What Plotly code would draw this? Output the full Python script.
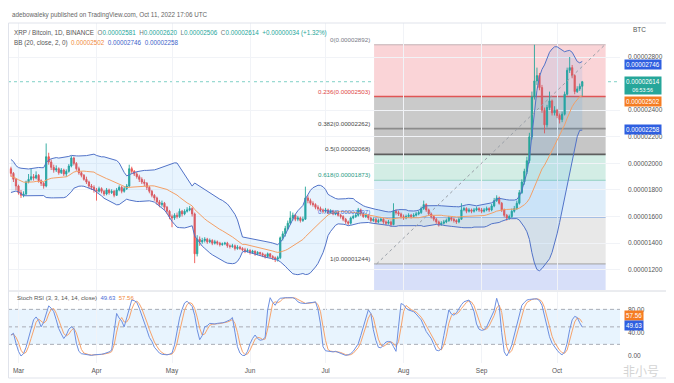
import numpy as np
import pandas as pd
import plotly.graph_objects as go

# ---------------- data (prices in satoshi = 1e-8 BTC) ----------------
# closes before the first visible day, only used to warm up BB(20)
warmup_close = [1980, 2010, 2050, 2000, 1960, 1920, 1880, 1900, 1870, 1850,
                1830, 1860, 1880, 1850, 1820, 1840, 1870, 1900, 1930, 1960]
first_open = 1960

close_feb = [1925, 1880, 1830]
high_feb = [1975, 1935, 1890]
low_feb = [1900, 1860, 1800]

close_mar = [1780, 1760, 1770, 1860, 1880, 1900, 1890, 1910, 1870, 1850,
             1830, 2050, 2010, 1970, 1950, 1960, 1930, 1950, 1920, 1940,
             1980, 2040, 2000, 1960, 1930, 1910, 1880, 1860, 1830, 1820, 1800]
high_mar = [1840, 1800, 1790, 1870, 1920, 1960, 1920, 1940, 1920, 1880,
            1860, 2150, 2080, 2030, 1990, 1985, 1970, 1965, 1960, 1955,
            1995, 2055, 2050, 2010, 1975, 1940, 1920, 1900, 1870, 1845, 1835]
low_mar = [1765, 1740, 1745, 1760, 1850, 1870, 1870, 1880, 1855, 1830,
           1810, 1820, 1990, 1950, 1930, 1935, 1915, 1920, 1905, 1900,
           1930, 1970, 1985, 1945, 1915, 1895, 1870, 1845, 1815, 1800, 1780]

close_apr = [1790, 1810, 1790, 1770, 1800, 1780, 1790, 1760, 1800, 1820,
             1790, 1810, 1830, 1960, 1940, 1920, 1900, 1880, 1860, 1850,
             1820, 1790, 1760, 1740, 1710, 1690, 1700, 1670, 1640, 1600]
high_apr = [1815, 1825, 1820, 1800, 1815, 1810, 1805, 1800, 1815, 1835,
            1830, 1825, 1845, 1990, 1975, 1950, 1935, 1915, 1895, 1880,
            1860, 1830, 1800, 1770, 1750, 1725, 1720, 1710, 1680, 1650]
low_apr = [1720, 1780, 1775, 1755, 1760, 1765, 1770, 1745, 1755, 1790,
           1775, 1780, 1800, 1820, 1925, 1905, 1885, 1860, 1845, 1830,
           1800, 1775, 1745, 1720, 1690, 1670, 1675, 1650, 1620, 1580]

close_may = [1590, 1610, 1600, 1640, 1620, 1640, 1650, 1660, 1620, 1320,
             1430, 1410, 1420, 1430, 1410, 1420, 1400, 1410, 1400, 1390,
             1395, 1400, 1380, 1375, 1380, 1360, 1370, 1360, 1350, 1340, 1345]
high_may = [1615, 1625, 1630, 1660, 1650, 1655, 1670, 1680, 1670, 1630,
            1460, 1450, 1440, 1445, 1440, 1435, 1430, 1425, 1420, 1410,
            1405, 1410, 1410, 1390, 1395, 1390, 1385, 1380, 1370, 1365, 1360]
low_may = [1520, 1575, 1585, 1590, 1600, 1610, 1630, 1640, 1600, 1250,
           1300, 1380, 1395, 1405, 1395, 1400, 1385, 1390, 1385, 1375,
           1380, 1385, 1365, 1360, 1365, 1345, 1350, 1350, 1340, 1325, 1330]

close_jun = [1330, 1340, 1320, 1330, 1320, 1310, 1300, 1320, 1300, 1290,
             1280, 1290, 1440, 1470, 1510, 1550, 1590, 1610, 1580, 1590,
             1570, 1580, 1740, 1720, 1700, 1690, 1670, 1660, 1650, 1640]
high_jun = [1355, 1350, 1345, 1340, 1335, 1330, 1320, 1330, 1325, 1310,
            1300, 1305, 1450, 1490, 1530, 1570, 1640, 1630, 1620, 1605,
            1600, 1600, 1825, 1760, 1735, 1715, 1700, 1685, 1675, 1660]
low_jun = [1315, 1320, 1305, 1310, 1305, 1295, 1285, 1290, 1285, 1275,
           1258, 1262, 1280, 1420, 1450, 1500, 1540, 1570, 1565, 1565,
           1555, 1560, 1575, 1700, 1685, 1675, 1655, 1645, 1635, 1625]

close_jul = [1650, 1630, 1640, 1620, 1630, 1610, 1600, 1580, 1560, 1550,
             1590, 1600, 1610, 1650, 1620, 1600, 1610, 1590, 1570, 1580,
             1560, 1570, 1580, 1560, 1550, 1560, 1540, 1640, 1630, 1620, 1600]
high_jul = [1665, 1660, 1655, 1650, 1645, 1640, 1620, 1610, 1590, 1570,
            1600, 1615, 1625, 1665, 1660, 1630, 1625, 1620, 1600, 1595,
            1590, 1585, 1595, 1590, 1570, 1575, 1570, 1700, 1655, 1645, 1630]
low_jul = [1630, 1620, 1620, 1610, 1610, 1600, 1585, 1565, 1545, 1535,
           1540, 1580, 1590, 1600, 1605, 1590, 1590, 1575, 1555, 1560,
           1545, 1550, 1560, 1545, 1535, 1540, 1525, 1535, 1615, 1605, 1585]

close_aug = [1590, 1600, 1610, 1600, 1610, 1620, 1630, 1660, 1690, 1650,
             1620, 1600, 1580, 1560, 1540, 1550, 1560, 1570, 1590, 1580,
             1570, 1560, 1580, 1650, 1660, 1640, 1650, 1640, 1650, 1660, 1650]
high_aug = [1615, 1615, 1625, 1620, 1625, 1635, 1645, 1675, 1720, 1700,
            1660, 1630, 1610, 1590, 1570, 1565, 1575, 1585, 1605, 1600,
            1590, 1580, 1595, 1700, 1675, 1670, 1665, 1660, 1665, 1675, 1670]
low_aug = [1575, 1580, 1590, 1585, 1590, 1600, 1610, 1620, 1650, 1635,
           1605, 1585, 1565, 1545, 1525, 1530, 1540, 1550, 1560, 1565,
           1555, 1545, 1550, 1575, 1640, 1625, 1630, 1625, 1630, 1640, 1635]

close_sep = [1640, 1650, 1660, 1650, 1680, 1720, 1740, 1700, 1650, 1610,
             1590, 1600, 1640, 1660, 1700, 1780, 1860, 1940, 2020, 2200,
             2500, 2620, 2660, 2570, 2400, 2290, 2420, 2470, 2380, 2400]
high_sep = [1665, 1665, 1675, 1670, 1695, 1740, 1760, 1750, 1710, 1660,
            1620, 1615, 1660, 1680, 1720, 1800, 1880, 1960, 2050, 2230,
            2540, 2892, 2720, 2680, 2590, 2420, 2440, 2540, 2480, 2430]
low_sep = [1625, 1630, 1640, 1635, 1640, 1670, 1710, 1690, 1635, 1595,
           1570, 1575, 1590, 1630, 1650, 1690, 1770, 1840, 1920, 2000,
           2180, 2480, 2590, 2550, 2380, 2226, 2270, 2400, 2360, 2360]

close_oct = [2360, 2330, 2370, 2520, 2700, 2720, 2660, 2540, 2560, 2580, 2614]
high_oct = [2410, 2375, 2390, 2540, 2720, 2800, 2740, 2670, 2580, 2600, 2620]
low_oct = [2340, 2300, 2310, 2360, 2510, 2680, 2640, 2520, 2530, 2545, 2506]

# Stoch RSI %K (one value per day)
k_feb = [36, 39, 22]
k_mar = [8, 0, 4, 15, 30, 45, 62, 67, 61, 50, 58, 72, 86, 82, 76, 62, 47, 38, 30, 36,
         46, 50, 47, 22, 8, 4, 3, 2, 2, 1, 2]
k_apr = [2, 3, 3, 4, 5, 7, 10, 40, 73, 65, 60, 50, 65, 80, 96, 95, 92, 82, 70, 60,
         45, 32, 25, 15, 10, 5, 3, 2, 2, 3]
k_may = [5, 19, 42, 65, 80, 91, 94, 90, 85, 70, 45, 28, 35, 50, 52, 56, 55, 55, 56, 56,
         57, 58, 60, 62, 66, 40, 16, 5, 1, 1, 8]
k_jun = [21, 30, 36, 30, 27, 28, 32, 79, 100, 92, 87, 95, 99, 100, 100, 100, 100, 100, 98, 93,
         91, 90, 90, 91, 91, 92, 93, 80, 55, 16]
k_jul = [9, 8, 8, 7, 8, 6, 4, 2, 1, 2, 4, 8, 14, 21, 35, 50, 66, 79, 73, 45,
         27, 15, 14, 20, 24, 25, 24, 16, 8, 50, 90]
k_aug = [88, 82, 79, 78, 76, 72, 66, 62, 52, 42, 36, 30, 20, 10, 9, 12, 35, 55, 79, 72,
         70, 74, 82, 88, 93, 95, 96, 87, 76, 55, 46]
k_sep = [44, 45, 50, 60, 70, 78, 99, 85, 40, 7, 0, 8, 19, 36, 56, 72, 87, 92, 96, 97,
         98, 98, 98, 95, 87, 68, 47, 33, 22, 15]
k_oct = [10, 5, 2, 7, 22, 45, 62, 68, 66, 57.05, 49.63]

# fib retracement drawing
fib_ratio_text = ["0", "0.236", "0.382", "0.5", "0.618", "0.786", "1", "1.618"]
fib_price = [2892, 2503, 2262, 2068, 1873, 1597, 1244, 226]
fib_start, fib_end = "2022-07-20 07:00", "2022-10-20 07:00"
trend_start, trend_end = "2022-07-21 07:00", "2022-10-20 00:00"

# axis ticks (0.00002600 is hidden behind the last-price label on the reference)
price_ticks = [1200, 1400, 1600, 1800, 2000, 2200, 2400, 2800]
stoch_ticks = [0, 40, 80]
stoch_bands = [80, 50, 20]

# legend values of last bar / indicators
last_o, last_h, last_l, last_c, last_chg, last_pct = 2581, 2620, 2506, 2614, 34, 1.32
bb_last = [2502, 2746, 2258]   # basis, upper, lower
countdown = "06:53:56"

# ---------------- assemble ----------------
close = close_feb + close_mar + close_apr + close_may + close_jun + close_jul + close_aug + close_sep + close_oct
high = high_feb + high_mar + high_apr + high_may + high_jun + high_jul + high_aug + high_sep + high_oct
low = low_feb + low_mar + low_apr + low_may + low_jun + low_jul + low_aug + low_sep + low_oct
kval = k_feb + k_mar + k_apr + k_may + k_jun + k_jul + k_aug + k_sep + k_oct
assert len(close) == len(high) == len(low) == len(kval) == 228, (len(close), len(high), len(low), len(kval))

dates = pd.date_range("2022-02-26", periods=len(close), freq="D")
opens = [first_open] + close[:-1]
S = 1e-8

full = pd.Series(warmup_close + close, dtype=float)
basis = full.rolling(20).mean().iloc[len(warmup_close):].to_numpy()
dev = full.rolling(20).std(ddof=0).iloc[len(warmup_close):].to_numpy()
upper = basis + 2 * dev
lower = basis - 2 * dev
dval = pd.Series(kval, dtype=float).rolling(3, min_periods=1).mean().to_numpy()

# ---------------- layout helpers (screen pixels; page body has an 8px margin) ----------------
OX, OY = 8, 8
FW, FH = 666, 375
def fx(p): return (p - OX) / FW
def fy(p): return 1 - (p - OY) / FH

FONT = "Liberation Sans"
TEAL, RED = "#26a69a", "#ef5350"

fig = go.Figure()
fig.add_trace(go.Scatter(x=dates, y=upper * S, mode="lines", line=dict(color="#5273c8", width=1),
                         hoverinfo="skip", showlegend=False))
fig.add_trace(go.Scatter(x=dates, y=lower * S, mode="lines", line=dict(color="#5273c8", width=1),
                         fill="tonexty", fillcolor="rgba(33,150,243,0.10)", hoverinfo="skip", showlegend=False))
fig.add_trace(go.Scatter(x=dates, y=basis * S, mode="lines", line=dict(color="#f4a066", width=1),
                         hoverinfo="skip", showlegend=False))
fig.add_trace(go.Candlestick(x=dates, open=np.array(opens) * S, high=np.array(high) * S,
                             low=np.array(low) * S, close=np.array(close) * S,
                             increasing=dict(line=dict(color=TEAL, width=0.9), fillcolor=TEAL),
                             decreasing=dict(line=dict(color=RED, width=0.9), fillcolor=RED),
                             showlegend=False))
fig.add_trace(go.Scatter(x=dates, y=dval, mode="lines", line=dict(color="#f7a36c", width=1),
                         xaxis="x2", yaxis="y2", showlegend=False))
fig.add_trace(go.Scatter(x=dates, y=kval, mode="lines", line=dict(color="#6d8fe0", width=1),
                         xaxis="x2", yaxis="y2", showlegend=False))

shapes = []
zone_colors = ["#fad4d7", "#cacaca", "#c6c6c6", "#d3ede5", "#deedf9", "#e8e8e8", "#d7dff9"]
for i, col in enumerate(zone_colors):
    shapes.append(dict(type="rect", xref="x", yref="y", x0=fib_start, x1=fib_end,
                       y0=fib_price[i + 1] * S, y1=fib_price[i] * S, fillcolor=col,
                       line=dict(width=0), layer="below"))
line_colors = ["#c4b2b4", "#e05555", "#8c8c8c", "#5e5e5e", "#8fcfc0", "#5b8ee0", "#a0a0a0"]
line_w = [1, 1.5, 1.8, 1.8, 1, 1, 1]
for i, col in enumerate(line_colors):
    shapes.append(dict(type="line", xref="x", yref="y", x0=fib_start, x1=fib_end,
                       y0=fib_price[i] * S, y1=fib_price[i] * S, line=dict(color=col, width=line_w[i]),
                       layer="below"))
shapes.append(dict(type="line", xref="x", yref="y", x0=trend_start, x1=trend_end,
                   y0=fib_price[6] * S, y1=fib_price[0] * S,
                   line=dict(color="#9aa0a8", width=1, dash="3px,3px"), layer="above"))
shapes.append(dict(type="line", xref="x domain", yref="y", x0=0, x1=1,
                   y0=last_c * S, y1=last_c * S, line=dict(color="#7fd0c6", width=1, dash="dot"),
                   layer="below"))
# stoch pane band
shapes.append(dict(type="rect", xref="x2 domain", yref="y2", x0=0, x1=1, y0=stoch_bands[2], y1=stoch_bands[0],
                   fillcolor="rgba(33,150,243,0.10)", line=dict(width=0), layer="below"))
for lv in stoch_bands:
    shapes.append(dict(type="line", xref="x2 domain", yref="y2", x0=0, x1=1, y0=lv, y1=lv,
                       line=dict(color="#a9adb6", width=1, dash="4px,3px"), layer="below"))
# frame and pane separator
shapes.append(dict(type="line", xref="paper", yref="paper", x0=fx(8), x1=fx(668), y0=fy(291), y1=fy(291),
                   line=dict(color="#d6d9e0", width=1)))
shapes.append(dict(type="rect", xref="paper", yref="paper", x0=fx(8.5), x1=fx(668), y0=fy(378), y1=fy(23),
                   line=dict(color="#e0e3eb", width=1)))

ann = []
def txt(x, y, text, size=6.3, color="#555", xanchor="left", yanchor="middle", family=FONT):
    ann.append(dict(x=fx(x), y=fy(y), xref="paper", yref="paper", text=text, showarrow=False,
                    xanchor=xanchor, yanchor=yanchor, font=dict(size=size, color=color, family=family)))

txt(10, 15, "adebowaleky published on TradingView.com, Oct 11, 2022 17:06 UTC", color="#666")
g = "<span style='color:#777'>%s</span>"
t = "<span style='color:#26a69a'>%s</span>"
line1 = ("XRP / Bitcoin, 1D, BINANCE  " + g % "O" + t % f"{last_o*S:.8f}" + "  " + g % "H" + t % f"{last_h*S:.8f}"
         + "  " + g % "L" + t % f"{last_l*S:.8f}" + "  " + g % "C" + t % f"{last_c*S:.8f}"
         + "  " + t % f"+{last_chg*S:.8f} (+{last_pct:.2f}%)")
txt(12, 33, line1, color="#555")
line2 = ("BB (20, close, 2, 0)  <span style='color:#f08a3c'>%.8f</span>  <span style='color:#3d63c9'>%.8f</span>"
         "  <span style='color:#3d63c9'>%.8f</span>" % (bb_last[0] * S, bb_last[1] * S, bb_last[2] * S))
txt(12, 43, line2, color="#555")
txt(15, 298, "Stoch RSI (3, 3, 14, 14, close)  <span style='color:#4a6cd6'>%.2f</span>  "
             "<span style='color:#f08a3c'>%.2f</span>" % (kval[-1], dval[-1]), size=6, color="#555")
txt(631, 30, "BTC", size=6.5, color="#555")
txt(641, 370, "非小号", size=12, color="#d4d4d4", xanchor="center", family="Noto Sans CJK SC")

fib_label_colors = ["#787b86", "#e04848", "#4a4a4a", "#4a4a4a", "#2b9c86", "#3f6fd8", "#4a4a4a"]
for i in range(7):
    ann.append(dict(x=fib_start, y=fib_price[i] * S, xref="x", yref="y",
                    text=f"{fib_ratio_text[i]}({fib_price[i]*S:.8f})", showarrow=False,
                    xanchor="right", yanchor="bottom", xshift=-2, yshift=0,
                    font=dict(size=6.2, color=fib_label_colors[i], family=FONT)))

def box(yref, y, text, bg, yanchor="middle", yshift=0, size=6.3, pad=0.9):
    ann.append(dict(x=fx(624), y=y, xref="paper", yref=yref, text=text, showarrow=False,
                    xanchor="left", yanchor=yanchor, yshift=yshift, bgcolor=bg, borderpad=pad,
                    font=dict(size=size, color="white", family=FONT)))

box("y", bb_last[1] * S, f"{bb_last[1]*S:.8f}", "#2f5fe0")
box("y", last_c * S, f"{last_c*S:.8f}<br><span style='font-size:5.3px'>{countdown}</span>", TEAL,
    yanchor="top", yshift=6)
box("y", bb_last[0] * S, f"{bb_last[0]*S:.8f}", "#f57c22", yanchor="top", yshift=1)
box("y", bb_last[2] * S, f"{bb_last[2]*S:.8f}", "#2f5fe0")
box("y2", dval[-1], f"{dval[-1]:.2f}", "#f57c22", yanchor="bottom", yshift=1.5)
box("y2", kval[-1], f"{kval[-1]:.2f}", "#2f5fe0", yshift=1.5)

xrange = ["2022-02-24 20:00", "2022-10-26 00:00"]
axis_font = dict(size=6.5, color="#555", family=FONT)
fig.update_layout(
    width=FW, height=FH, margin=dict(l=0, r=0, t=0, b=0),
    paper_bgcolor="white", plot_bgcolor="white", showlegend=False,
    shapes=shapes, annotations=ann,
    xaxis=dict(domain=[fx(8), fx(620)], range=xrange, anchor="y", showticklabels=False,
               showgrid=True, gridcolor="#f1f3f7", dtick="M1", tick0="2022-03-01",
               rangeslider=dict(visible=False), zeroline=False, showline=False, ticks=""),
    yaxis=dict(domain=[fy(290), fy(23)], range=[1047.8 * S, 3055.7 * S], side="right", anchor="x",
               tickmode="array", tickvals=[v * S for v in price_ticks],
               ticktext=[f"{v*S:.8f}" for v in price_ticks], showgrid=True, gridcolor="#f1f3f7",
               zeroline=False, tickfont=axis_font, ticks="", ticklabelstandoff=7),
    xaxis2=dict(domain=[fx(8), fx(620)], range=xrange, anchor="y2", matches="x",
                showgrid=True, gridcolor="#f1f3f7", dtick="M1", tick0="2022-03-01", tickformat="%b",
                tickfont=axis_font, ticks="", zeroline=False, ticklabelstandoff=2),
    yaxis2=dict(domain=[fy(363), fy(292)], range=[-12.0, 109.8], side="right", anchor="x2",
                tickvals=stoch_ticks, ticktext=[f"{v:.2f}" for v in stoch_ticks], showgrid=False,
                zeroline=False, tickfont=axis_font, ticks="", ticklabelstandoff=7),
)

fig.write_html("out.html")
